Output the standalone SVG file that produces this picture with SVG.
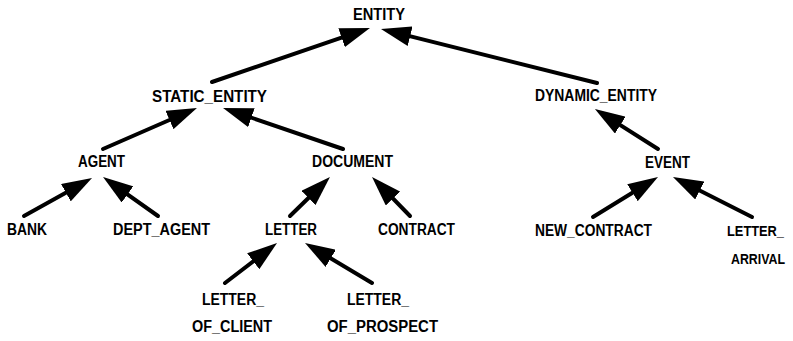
<svg xmlns="http://www.w3.org/2000/svg" width="793" height="341" viewBox="0 0 793 341">
  <style>
    .lbl { font-family: "Liberation Sans", Arial, sans-serif; font-weight: bold; font-size: 16px; fill: #000; }
    .sm { font-size: 14px; }
    .edge { stroke: #000; stroke-width: 4; fill: none; stroke-linecap: round; marker-end: url(#head); }
  </style>
  <defs>
    <marker id="head" markerUnits="userSpaceOnUse" markerWidth="30" markerHeight="20" viewBox="0 0 30 20" refX="20" refY="10" orient="auto">
      <path d="M0,0 L30,10 L0,20 z" fill="#000"/>
    </marker>
  </defs>
  <rect width="793" height="341" fill="#fff"/>

  <!-- inheritance links: child points to parent -->
  <g id="connectors">
    <line class="edge" x1="212" y1="82" x2="360.5" y2="31.2"/>
    <line class="edge" x1="597" y1="83" x2="390.7" y2="31.4"/>
    <line class="edge" x1="103" y1="149" x2="187.8" y2="112"/>
    <line class="edge" x1="343" y1="149" x2="232.5" y2="111.2"/>
    <line class="edge" x1="658" y1="149" x2="603.4" y2="114.4"/>
    <line class="edge" x1="24" y1="216" x2="83.3" y2="182.9"/>
    <line class="edge" x1="158" y1="216" x2="111.2" y2="182.8"/>
    <line class="edge" x1="290" y1="216" x2="322.8" y2="184"/>
    <line class="edge" x1="410" y1="216" x2="379" y2="184.2"/>
    <line class="edge" x1="225" y1="283" x2="269.1" y2="249.1"/>
    <line class="edge" x1="372" y1="283" x2="313.6" y2="248.1"/>
    <line class="edge" x1="593" y1="217" x2="649.5" y2="182.2"/>
    <line class="edge" x1="752" y1="217" x2="681.9" y2="181.5"/>
  </g>

  <g id="entity"><text class="lbl" x="353" y="20" textLength="52" lengthAdjust="spacingAndGlyphs">ENTITY</text></g>
  <g id="static_entity"><text class="lbl" x="152" y="102" textLength="115" lengthAdjust="spacingAndGlyphs">STATIC_ENTITY</text></g>
  <g id="dynamic_entity"><text class="lbl" x="535" y="101" textLength="122" lengthAdjust="spacingAndGlyphs">DYNAMIC_ENTITY</text></g>
  <g id="agent"><text class="lbl" x="78" y="167" textLength="47" lengthAdjust="spacingAndGlyphs">AGENT</text></g>
  <g id="document"><text class="lbl" x="312" y="167" textLength="81" lengthAdjust="spacingAndGlyphs">DOCUMENT</text></g>
  <g id="event"><text class="lbl" x="645" y="168" textLength="45" lengthAdjust="spacingAndGlyphs">EVENT</text></g>
  <g id="bank"><text class="lbl" x="7" y="235" textLength="40" lengthAdjust="spacingAndGlyphs">BANK</text></g>
  <g id="dept_agent"><text class="lbl" x="113" y="235" textLength="97" lengthAdjust="spacingAndGlyphs">DEPT_AGENT</text></g>
  <g id="letter"><text class="lbl" x="265" y="235" textLength="52" lengthAdjust="spacingAndGlyphs">LETTER</text></g>
  <g id="contract"><text class="lbl" x="378" y="235" textLength="77" lengthAdjust="spacingAndGlyphs">CONTRACT</text></g>
  <g id="new_contract"><text class="lbl" x="535" y="236" textLength="117" lengthAdjust="spacingAndGlyphs">NEW_CONTRACT</text></g>
  <g id="letter_arrival">
    <text class="lbl sm" x="727" y="236" textLength="57" lengthAdjust="spacingAndGlyphs">LETTER_</text>
    <text class="lbl sm" x="731" y="264" textLength="54" lengthAdjust="spacingAndGlyphs">ARRIVAL</text>
  </g>
  <g id="letter_of_client">
    <text class="lbl" x="202" y="305" textLength="62" lengthAdjust="spacingAndGlyphs">LETTER_</text>
    <text class="lbl" x="192" y="332" textLength="80" lengthAdjust="spacingAndGlyphs">OF_CLIENT</text>
  </g>
  <g id="letter_of_prospect">
    <text class="lbl" x="347" y="305" textLength="62" lengthAdjust="spacingAndGlyphs">LETTER_</text>
    <text class="lbl" x="327" y="332" textLength="111" lengthAdjust="spacingAndGlyphs">OF_PROSPECT</text>
  </g>
</svg>
